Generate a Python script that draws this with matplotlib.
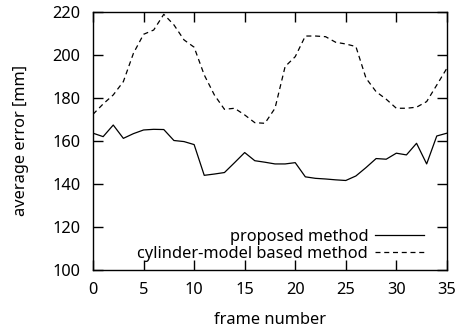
"""Average error per frame: proposed method vs. cylinder-model based method."""

import matplotlib

matplotlib.use("Agg")
import matplotlib.pyplot as plt

frames = list(range(36))
proposed = [
    163.6, 162.0, 167.4, 161.2, 163.4, 165.1, 165.4, 165.3, 160.2, 159.7,
    158.3, 144.0, 144.6, 145.3, 149.9, 154.6, 150.8, 150.1, 149.3, 149.3,
    149.9, 143.3, 142.6, 142.3, 141.9, 141.6, 143.7, 147.6, 151.8, 151.5,
    154.3, 153.5, 158.9, 149.3, 162.3, 163.6,
]
cylinder = [
    172.4, 177.2, 181.4, 187.6, 200.8, 209.6, 211.6, 218.9, 214.0, 207.0,
    203.6, 190.7, 181.4, 174.7, 175.2, 172.1, 168.5, 168.2, 175.2, 194.6,
    199.2, 208.8, 208.8, 208.5, 205.9, 205.1, 203.9, 189.2, 182.9, 179.4,
    175.2, 175.2, 175.7, 178.3, 186.0, 193.8,
]

plt.rcParams["font.family"] = ["Noto Sans", "DejaVu Sans"]
plt.rcParams["font.size"] = 11.8

fig = plt.figure(figsize=(4.56, 3.32), dpi=100)
ax = fig.add_axes([0.204, 0.187, 0.776, 0.777])

ax.plot(frames, proposed, color="black", linewidth=0.9, label="proposed method")
ax.plot(frames, cylinder, color="black", linewidth=0.9, dashes=(4, 3),
        label="cylinder-model based method")

ax.set_xlim(0, 35)
ax.set_ylim(100, 220)
ax.set_xticks(range(0, 36, 5))
ax.set_yticks(range(100, 221, 20))
ax.tick_params(direction="in", length=7, width=1, top=True, right=True)
ax.tick_params(axis="x", pad=9)
ax.tick_params(axis="y", pad=9)
for spine in ax.spines.values():
    spine.set_linewidth(1)

ax.set_xlabel("frame number", labelpad=10)
ax.set_ylabel("average error [mm]", labelpad=17)

ax.legend(loc="lower right", bbox_to_anchor=(0.935, 0.03), frameon=False,
          markerfirst=False, handlelength=3.0, borderaxespad=0, borderpad=0,
          labelspacing=0.08, handletextpad=0.4)

fig.savefig("out.png", dpi=100)
